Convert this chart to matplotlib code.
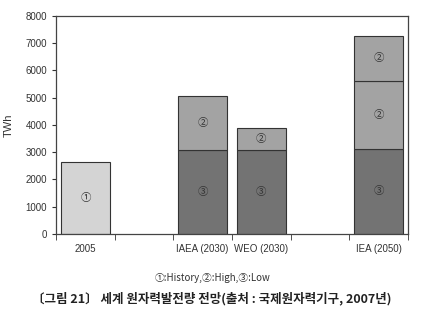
import matplotlib.pyplot as plt
import numpy as np

plt.rcParams['font.family'] = ['Liberation Sans', 'Noto Sans CJK KR', 'DejaVu Sans']

# scenario slots (empty strings leave a gap in the row)
labels = ["2005", "", "IAEA (2030)", "WEO (2030)", "", "IEA (2050)"]
history = [2630, 0, 0, 0, 0, 0]
low = [0, 0, 3100, 3100, 0, 3130]
high = [0, 0, 1950, 780, 0, 2480]
high2 = [0, 0, 0, 0, 0, 1670]

fig = plt.figure(figsize=(4.23, 3.25), dpi=100)
ax = fig.add_axes([0.1324, 0.28, 0.832, 0.6708])

x = np.arange(len(labels))
w = 0.84
edge = dict(edgecolor="#333333", linewidth=0.8)


def stack(vals, bottom, color):
    vals = np.array(vals)
    keep = vals > 0
    ax.bar(x[keep], vals[keep], w, bottom=np.array(bottom)[keep], color=color, **edge)


zero = np.zeros(len(labels))
low_arr = np.array(low)
high_arr = np.array(high)
stack(history, zero, "#d4d4d4")
stack(low, zero, "#737373")
stack(high, low_arr, "#a3a3a3")
stack(high2, low_arr + high_arr, "#a3a3a3")

mark = dict(ha="center", va="center", fontsize=7.5, color="#333333",
            family=['Noto Sans CJK KR', 'DejaVu Sans'])
for i in x:
    if history[i]:
        ax.text(i, history[i] / 2, "①", **mark)
    if low[i]:
        ax.text(i, low[i] / 2, "③", **mark)
    if high[i]:
        ax.text(i, low[i] + high[i] / 2, "②", **mark)
    if high2[i]:
        ax.text(i, low[i] + high[i] + high2[i] / 2, "②", **mark)

ax.set_xlim(-0.5, len(labels) - 0.5)
ax.set_ylim(0, 8000)
ax.set_yticks(range(0, 8001, 1000))
ax.set_xticks(x)
ax.set_xticklabels(labels)
ax.set_xticks(np.arange(-0.5, len(labels)), minor=True)
ax.tick_params(axis="x", which="major", length=0, pad=7, labelsize=7, colors="#333333")
ax.tick_params(axis="x", which="minor", length=4, direction="out", color="#333333")
ax.tick_params(axis="y", length=3, direction="out", labelsize=7, colors="#333333")
for s in ax.spines.values():
    s.set_color("#444444")
    s.set_linewidth(0.9)

ax.set_ylabel("TWh", fontsize=8, color="#333333", labelpad=8)

fig.text(0.503, 0.145, "①:History,②:High,③:Low", ha="center", va="center",
         fontsize=7, color="#333333", family=['Noto Sans CJK KR', 'DejaVu Sans'])
fig.text(0.5, 0.082, "〔그림 21〕 세계 원자력발전량 전망(출처 : 국제원자력기구, 2007년)",
         ha="center", va="center", fontsize=9, fontweight="bold", color="#222222",
         family=['Noto Sans CJK KR', 'DejaVu Sans'])

fig.savefig("out.png", dpi=100)
